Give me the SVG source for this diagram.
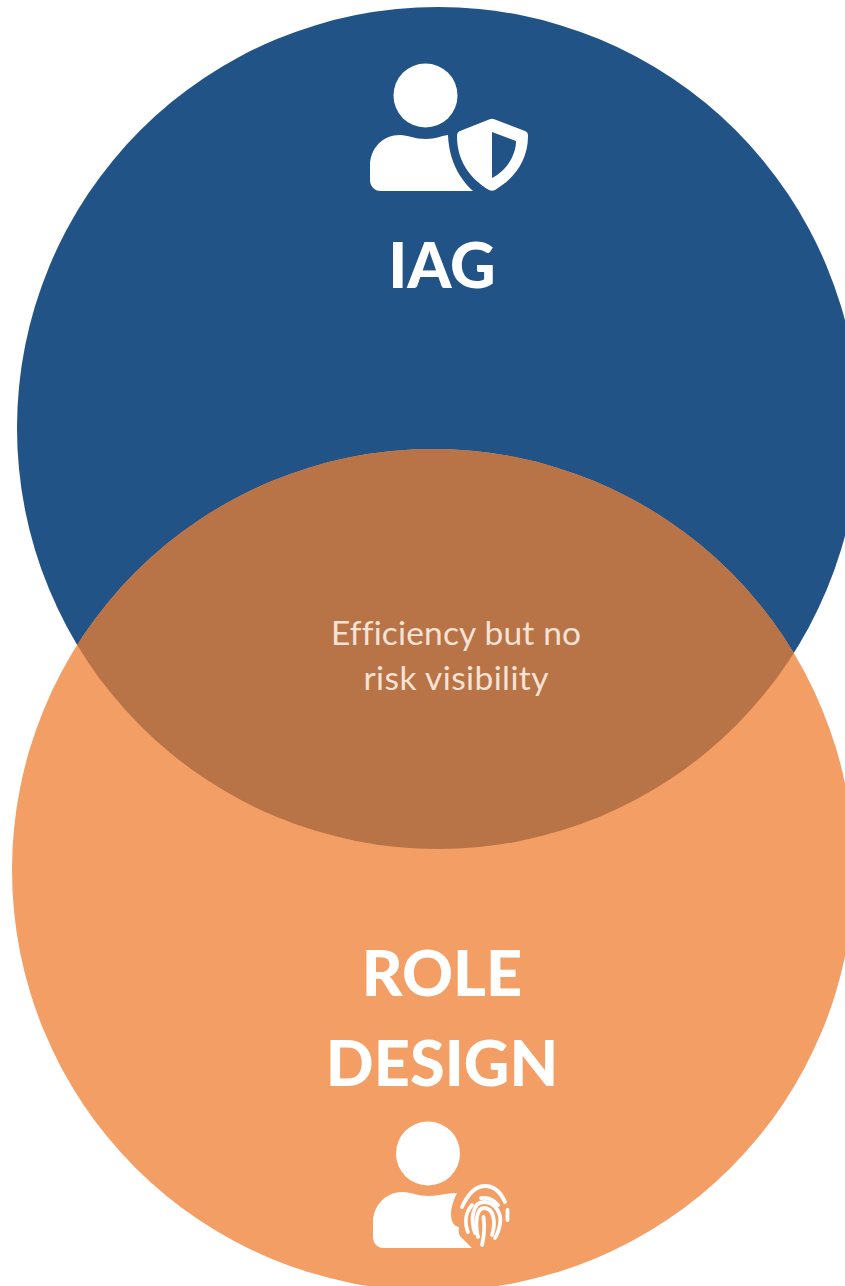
<svg xmlns="http://www.w3.org/2000/svg" width="845" height="1286" viewBox="0 0 845 1286">
<style>
.t{font-family:"Lato","Open Sans","Liberation Sans",sans-serif;text-anchor:middle;font-variant-ligatures:none}
.h{font-size:63px;font-weight:900;fill:#fff}
.b{font-size:33.500px;fill:#f6e3d6}
.w{fill:#fff}
.fp{fill:none;stroke:#fff;stroke-width:3.800;stroke-linecap:round;stroke-linejoin:round}
</style>
<defs><clipPath id="blueClip"><circle cx="438" cy="428" r="421"/></clipPath></defs>
<rect width="845" height="1286" fill="#fff"/>
<g id="iag-circle"><circle cx="438" cy="428" r="421" fill="#215387"/></g>
<g id="role-circle"><circle cx="433" cy="870" r="421" fill="#f39e64"/></g>
<g id="overlap"><circle cx="433" cy="870" r="421" fill="#b87346" clip-path="url(#blueClip)"/>
<text class="t b" x="456" y="645" textLength="250">Efficiency but no</text>
<text class="t b" x="456" y="690" textLength="185">risk visibility</text></g>
<g id="iag-label">
<circle class="w" cx="425.500" cy="95.500" r="32"/>
<path class="w" d="M370 178V166C370 148 383 135 400 135C408 135 414 139 426 139C436 139 440 136 448 135C449 160 459 178 473 191H381C374 191 370 186 370 180Z"/>
<path class="w" fill-rule="evenodd" d="M457 136C457 133 458 132 460 131L489 119.500C491 118.500 493 118.500 495 119.500L525 131C527 132 528 133 528 136C528 160 515 178 495 190C493 191 491 191 489 190C469 178 457 160 457 136ZM492 132V178C507 170 516 155 516 141Z"/>
<text class="t h" x="442" y="288">IAG</text></g>
<g id="role-label">
<text class="t h" x="442" y="996">ROLE</text>
<text class="t h" x="442" y="1086">DESIGN</text>
<circle class="w" cx="428" cy="1153.500" r="32"/>
<path class="w" d="M373 1235V1223C373 1205 386 1192 403 1192C411 1192 417 1196 429 1196C439 1196 446 1193 457 1193C453 1201 451 1208 451 1214C451 1220 453 1226 459 1227C458 1232 459 1236 463 1239L472 1248H384C377 1248 373 1243 373 1237Z"/>
<g class="fp">
<path d="M462 1207C468 1194 476 1186 485 1186C494 1186 501 1193 505 1202"/>
<path d="M481 1198C488 1197 494 1200 498 1205"/>
<path d="M472 1205C466 1212 464 1222 468 1232"/>
<path d="M507.500 1210V1220"/>
<path d="M475 1233C470 1218 473 1202 484 1202C496 1202 502 1215 500 1224C499 1230 497 1235 495 1238"/>
<path d="M478 1237C475 1225 476 1208 484 1208C494 1208 496 1222 492 1235"/>
<path d="M483.500 1217C485 1228 484 1237 482 1245"/>
</g></g>
</svg>
